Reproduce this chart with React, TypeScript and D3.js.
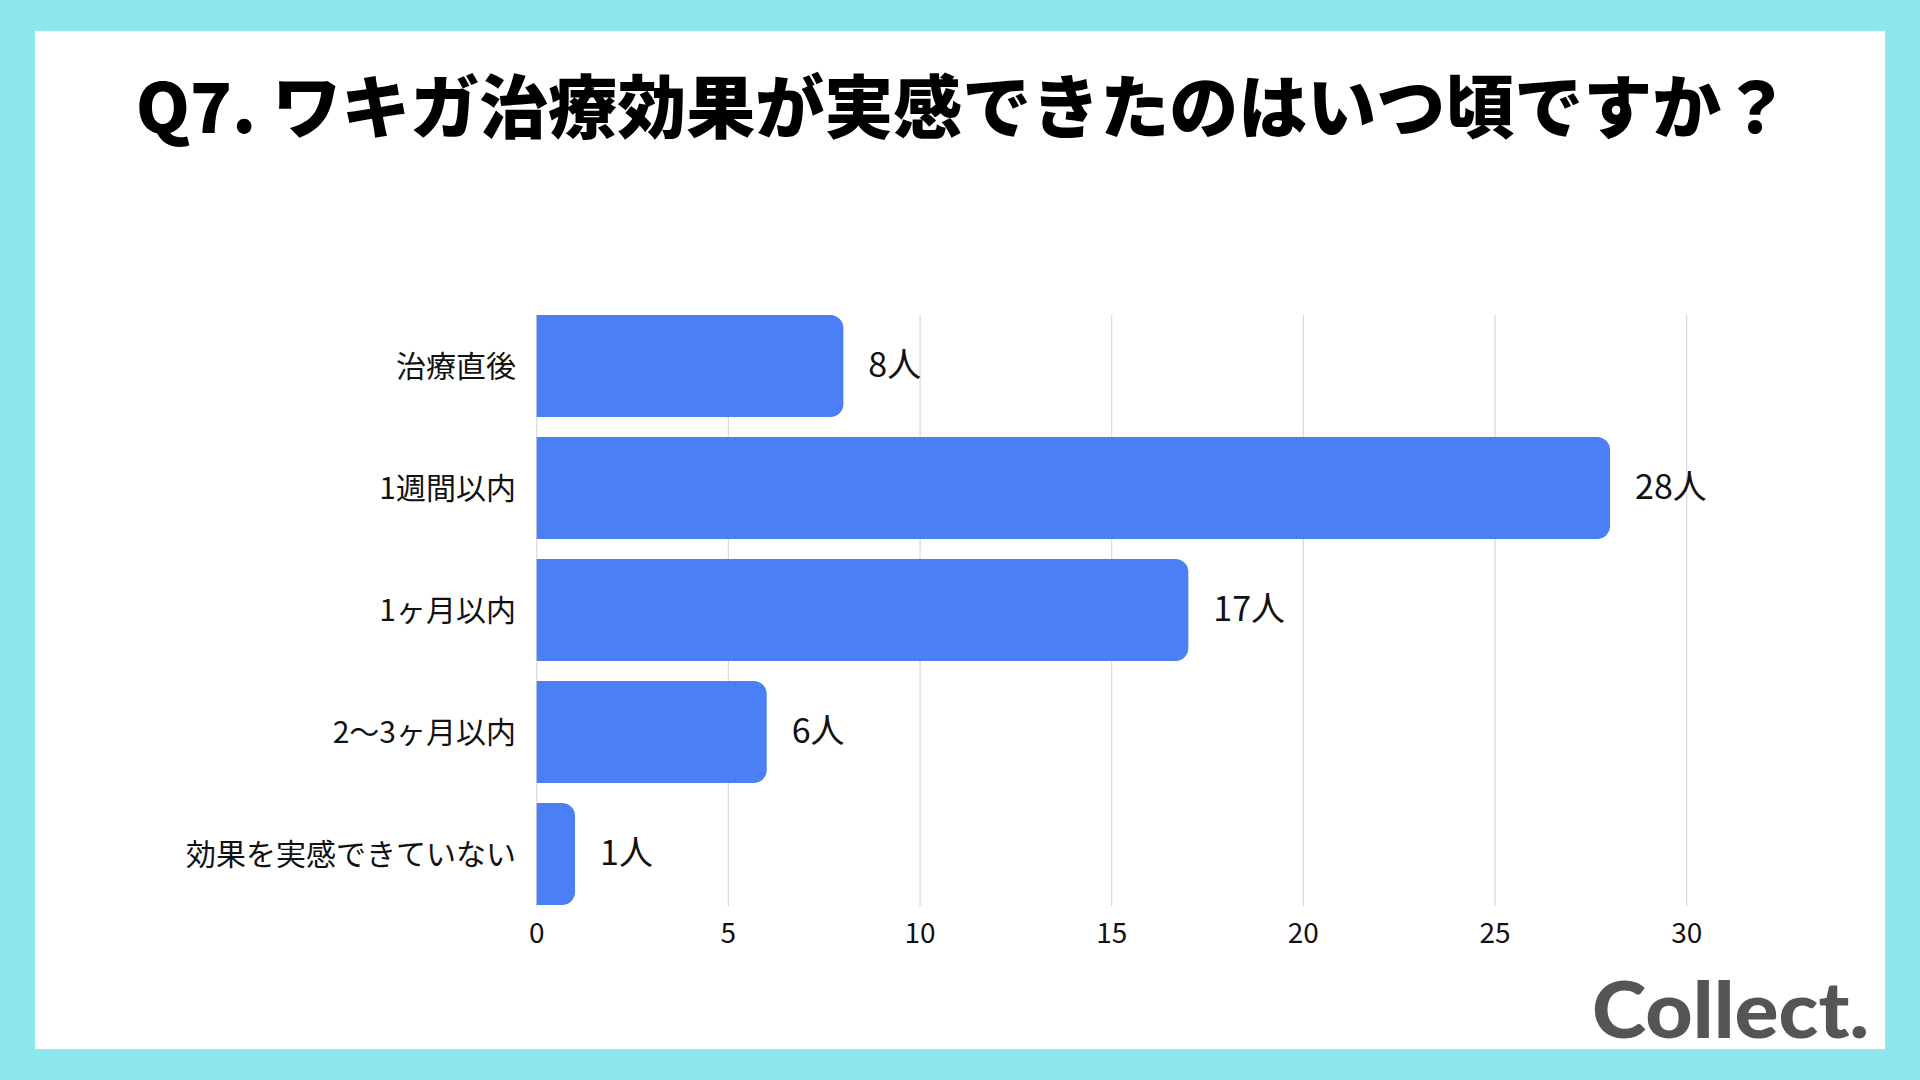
import React, { useRef, useEffect } from 'react';
import * as d3 from 'd3';

// Survey answers: when the treatment effect was felt
const categories = ['治療直後', '1週間以内', '1ヶ月以内', '2〜3ヶ月以内', '効果を実感できていない'];
const counts = [8, 28, 17, 6, 1];
const tickValues = [0, 5, 10, 15, 20, 25, 30];
const unit = '人';

const title = 'Q7. ワキガ治療効果が実感できたのはいつ頃ですか？';
const brand = 'Collect.';

const W = 1920;
const H = 1080;
const FONT = '"Noto Sans CJK JP", "Noto Sans", sans-serif';

// path for a bar with square left end and rounded right end
const barPath = (x0: number, x1: number, y: number, h: number, r: number) => {
  const rr = Math.min(r, (x1 - x0) / 2, h / 2);
  return `M${x0},${y}H${x1 - rr}A${rr},${rr} 0 0 1 ${x1},${y + rr}V${y + h - rr}A${rr},${rr} 0 0 1 ${x1 - rr},${y + h}H${x0}Z`;
};

const App = () => {
  const svgRef = useRef<SVGSVGElement>(null);

  useEffect(() => {
    document.body.style.margin = '0';
    const svg = d3.select(svgRef.current);
    svg.selectAll('*').remove();

    svg.attr('width', W).attr('height', H);

    // cyan frame and white card
    svg.append('rect').attr('width', W).attr('height', H).attr('fill', '#8ce8ec');
    svg.append('rect')
      .attr('x', 35).attr('y', 31)
      .attr('width', 1850).attr('height', 1018)
      .attr('fill', '#ffffff');

    svg.append('text')
      .attr('x', 963).attr('y', 133)
      .attr('text-anchor', 'middle')
      .attr('font-family', FONT)
      .attr('font-weight', 900)
      .attr('font-size', 69)
      .attr('fill', '#000')
      .text(title);

    const x = d3.scaleLinear().domain([0, 30]).range([536.7, 1686.7]);
    const y = d3.scaleBand<string>()
      .domain(categories)
      .range([305, 915])
      .paddingInner(0.163)
      .paddingOuter(0.0815);

    const gridTop = y(categories[0])!;
    const gridBottom = y(categories[categories.length - 1])! + y.bandwidth();

    // vertical gridlines
    svg.append('g')
      .selectAll('line')
      .data(tickValues)
      .enter()
      .append('line')
      .attr('x1', d => x(d)).attr('x2', d => x(d))
      .attr('y1', gridTop).attr('y2', gridBottom + 1)
      .attr('stroke', '#d9d9d9')
      .attr('stroke-width', 1.2);

    // x tick labels
    svg.append('g')
      .selectAll('text')
      .data(tickValues)
      .enter()
      .append('text')
      .attr('x', d => x(d))
      .attr('y', 943)
      .attr('text-anchor', 'middle')
      .attr('font-family', FONT)
      .attr('font-size', 28)
      .attr('fill', '#111')
      .text(d => d);

    // bars
    svg.append('g')
      .selectAll('path')
      .data(counts)
      .enter()
      .append('path')
      .attr('d', (d, i) => barPath(x(0), x(d), y(categories[i])!, y.bandwidth(), 13))
      .attr('fill', '#4b7ff6');

    // value labels
    svg.append('g')
      .selectAll('text')
      .data(counts)
      .enter()
      .append('text')
      .attr('x', d => x(d) + 25)
      .attr('y', (d, i) => y(categories[i])! + y.bandwidth() / 2 - 1)
      .attr('dy', '0.36em')
      .attr('font-family', FONT)
      .attr('font-size', 34)
      .attr('fill', '#111')
      .text(d => `${d}${unit}`);

    // category labels
    svg.append('g')
      .selectAll('text')
      .data(categories)
      .enter()
      .append('text')
      .attr('x', 516)
      .attr('y', d => y(d)! + y.bandwidth() / 2)
      .attr('dy', '0.36em')
      .attr('text-anchor', 'end')
      .attr('font-family', FONT)
      .attr('font-size', 30)
      .attr('fill', '#111')
      .text(d => d);

    // brand mark
    svg.append('text')
      .attr('x', 1592).attr('y', 1038)
      .attr('font-family', 'Lato, "Open Sans", sans-serif')
      .attr('font-weight', 900)
      .attr('font-size', 78)
      .attr('textLength', 277)
      .attr('lengthAdjust', 'spacingAndGlyphs')
      .attr('fill', '#555555')
      .text(brand);
  }, []);

  return (
    <div>
      <svg ref={svgRef}></svg>
    </div>
  );
};

export default App;
